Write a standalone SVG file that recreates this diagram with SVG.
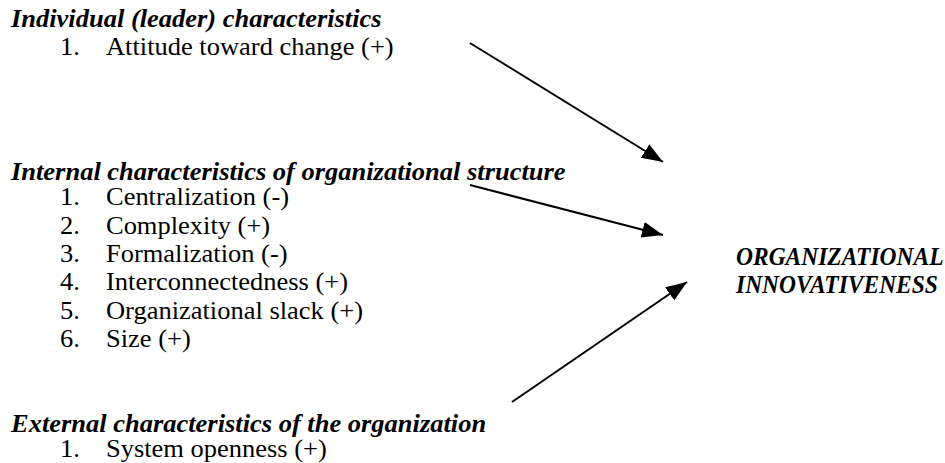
<svg xmlns="http://www.w3.org/2000/svg" width="945" height="463" viewBox="0 0 945 463">
  <style>
    text { font-family: "Liberation Serif", "Times New Roman", serif; fill: #000; }
    .head { font-size: 24.6px; font-weight: bold; font-style: italic; }
    .item { font-size: 24.6px; }
    .target { font-size: 24.6px; font-weight: bold; font-style: italic; }
    .conn { stroke: #000; stroke-width: 2; fill: none; marker-end: url(#arrow); }
  </style>
  <defs>
    <marker id="arrow" markerUnits="userSpaceOnUse" markerWidth="22" markerHeight="18" refX="21" refY="8" orient="auto">
      <path d="M0,0 L21,8 L0,16 z" fill="#000"/>
    </marker>
  </defs>
  <rect width="945" height="463" fill="#fff"/>

  <g id="individual" transform="scale(1.077 1)">
    <text class="head" x="10.2" y="27">Individual (leader) characteristics</text>
    <text class="item" x="55.7" y="55">1.</text>
    <text class="item" x="98.4" y="55">Attitude toward change (+)</text>
  </g>

  <g id="internal" transform="scale(1.077 1)">
    <text class="head" x="10.2" y="180">Internal characteristics of organizational structure</text>
    <text class="item" x="55.7" y="205.5">1.</text>
    <text class="item" x="98.4" y="205.5">Centralization (-)</text>
    <text class="item" x="55.7" y="233.8">2.</text>
    <text class="item" x="98.4" y="233.8">Complexity (+)</text>
    <text class="item" x="55.7" y="262">3.</text>
    <text class="item" x="98.4" y="262">Formalization (-)</text>
    <text class="item" x="55.7" y="290.5">4.</text>
    <text class="item" x="98.4" y="290.5">Interconnectedness (+)</text>
    <text class="item" x="55.7" y="318.8">5.</text>
    <text class="item" x="98.4" y="318.8">Organizational slack (+)</text>
    <text class="item" x="55.7" y="347">6.</text>
    <text class="item" x="98.4" y="347">Size (+)</text>
  </g>

  <g id="external" transform="scale(1.077 1)">
    <text class="head" x="10.2" y="432">External characteristics of the organization</text>
    <text class="item" x="55.7" y="457.5">1.</text>
    <text class="item" x="98.4" y="457.5">System openness (+)</text>
  </g>

  <g id="innovativeness" transform="scale(0.955 1)">
    <text class="target" x="770.7" y="265">ORGANIZATIONAL</text>
    <text class="target" x="770.7" y="293">INNOVATIVENESS</text>
  </g>

  <g id="connectors">
    <line class="conn" x1="470" y1="43" x2="663" y2="162"/>
    <line class="conn" x1="470" y1="185" x2="663" y2="235"/>
    <line class="conn" x1="512" y1="402" x2="687" y2="282"/>
  </g>
</svg>
